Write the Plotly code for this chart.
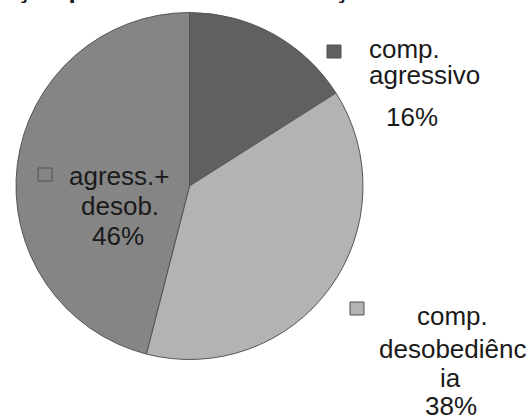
import plotly.graph_objects as go

# ---- data ----
categories = ["comp. agressivo", "comp. desobediência", "agress.+ desob."]
values = [16, 38, 46]
label_lines = [["comp.", "agressivo"], ["comp.", "desobediênc", "ia"], ["agress.+", "desob."]]
slice_colors = ["#606060", "#b3b3b3", "#858585"]
title_text = "Distribuição por motivo de internações em CE"

W, H = 532, 417
FONT = "Liberation Sans, Arial, sans-serif"
FS = 26

fig = go.Figure()
fig.add_trace(go.Pie(
    labels=categories, values=values, sort=False, direction="clockwise", rotation=0,
    marker=dict(colors=slice_colors, line=dict(color="#555555", width=1)),
    textinfo="none", hoverinfo="label+percent", showlegend=False,
    domain=dict(x=[16 / W, 363 / W], y=[1 - 360 / H, 1 - 12 / H]),
))

# label placement (layout only): per category: list of (x, baseline, anchor) for name lines, then pct
label_layout = [
    dict(lines=[(367, 58, "left"), (367, 84, "left")], pct=(412, 126), key=(327, 45)),
    dict(lines=[(452, 325, "center"), (452, 358, "center"), (450, 387, "center")], pct=(451, 415), key=(350, 302)),
    dict(lines=[(119, 185, "center"), (120, 215, "center")], pct=(118, 245), key=(38, 168)),
]

def px2y(baseline):
    return 1 - (baseline - 9) / H

annotations = []
shapes = []
total = sum(values)
for i, cat in enumerate(categories):
    lay = label_layout[i]
    for text, (x, b, anc) in zip(label_lines[i], lay["lines"]):
        annotations.append(dict(text=text, x=x / W, y=px2y(b), xref="paper", yref="paper",
                                xanchor=anc, yanchor="middle", showarrow=False,
                                font=dict(family=FONT, size=FS, color="#1a1a1a")))
    pct = f"{round(values[i] / total * 100)}%"
    px, pb = lay["pct"]
    annotations.append(dict(text=pct, x=px / W, y=px2y(pb), xref="paper", yref="paper",
                            xanchor="center", yanchor="middle", showarrow=False,
                            font=dict(family=FONT, size=FS, color="#1a1a1a")))
    kx, ky = lay["key"]
    shapes.append(dict(type="rect", xref="paper", yref="paper",
                       x0=kx / W, x1=(kx + 14) / W, y0=1 - (ky + 13) / H, y1=1 - ky / H,
                       fillcolor=slice_colors[i], line=dict(color="#505050", width=1)))

annotations.append(dict(text="<b>" + title_text + "</b>", x=484 / W, y=1 + 11 / H,
                        xref="paper", yref="paper", xanchor="right", yanchor="middle",
                        showarrow=False, font=dict(family=FONT, size=26, color="#1a1a1a")))

fig.update_layout(
    width=W, height=H, margin=dict(l=0, r=0, t=0, b=0),
    paper_bgcolor="white", plot_bgcolor="white",
    annotations=annotations, shapes=shapes,
)
fig.write_html("out.html")
